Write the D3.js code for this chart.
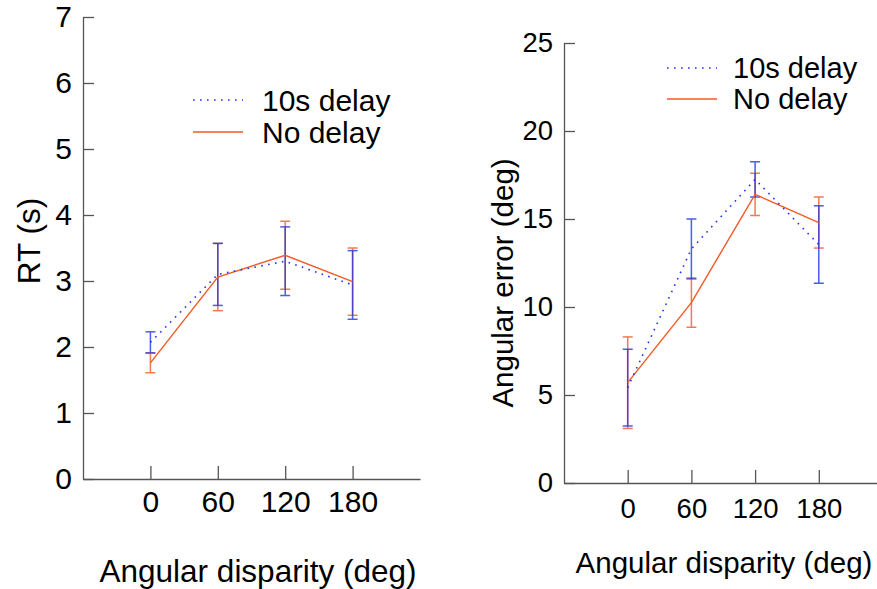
<!DOCTYPE html>
<html>
<head>
<meta charset="utf-8">
<script src="https://cdn.jsdelivr.net/npm/d3@7"></script>
<style>
  body { margin: 0; background: #fff; }
  svg { font-family: "Liberation Sans", Arial, sans-serif; }
  .axis path, .axis line { stroke: #555; stroke-width: 1.3; }
  .axis text { fill: #000; }
</style>
</head>
<body>
<svg id="chart" width="877" height="589"></svg>
<script>
// angular disparity categories
var disparities = [0, 60, 120, 180];
var seriesNames = ["10s delay", "No delay"];

// RT (s) - left panel
var rtDelayMean = [2.07, 3.10, 3.30, 2.94];
var rtDelayErr = [0.16, 0.47, 0.52, 0.52];
var rtNoDelayMean = [1.76, 3.06, 3.39, 2.99];
var rtNoDelayErr = [0.15, 0.51, 0.515, 0.51];

// Angular error (deg) - right panel
var errDelayMean = [5.42, 13.3, 17.25, 13.55];
var errDelayErr = [2.18, 1.7, 1.0, 2.2];
var errNoDelayMean = [5.7, 10.25, 16.4, 14.8];
var errNoDelayErr = [2.6, 1.4, 1.2, 1.45];

var blue = "#2035e6";
var orange = "#f25a26";

var svg = d3.select("#chart");

// maak de data per serie
function makeSeries(means, errs) {
  return disparities.map(function(d, i) {
    return {x: d, y: means[i], e: errs[i]};
  });
}

function drawPanel(p) {
  var g = svg.append("g");

  var xScale = d3.scaleLinear().domain([-60, 240]).range(p.xRange);
  var yScale = d3.scaleLinear().domain(p.yDomain).range(p.yRange);

  // y-as
  g.append("g")
      .attr("class", "axis")
      .attr("transform", "translate(" + p.xRange[0] + ",0)")
      .style("font-size", p.tickSize + "px")
      .call(d3.axisLeft(yScale)
        .ticks(p.yTicks)
        .tickSize(-11)
        .tickSizeOuter(0)
        .tickPadding(11));

  // x-as
  g.append("g")
      .attr("class", "axis")
      .attr("transform", "translate(0," + p.yRange[0] + ")")
      .style("font-size", p.tickSize + "px")
      .call(d3.axisBottom(xScale)
        .tickValues(disparities)
        .tickSize(-13)
        .tickSizeOuter(0)
        .tickPadding(p.xPad));

  g.selectAll(".axis").attr("font-size", null).attr("font-family", null);

  // as titels
  g.append("text")
      .attr("x", p.xTitle[0])
      .attr("y", p.xTitle[1])
      .attr("text-anchor", "middle")
      .style("font-size", p.titleSize + "px")
      .text("Angular disparity (deg)");

  g.append("text")
      .attr("transform", "translate(" + p.yTitle[0] + "," + p.yTitle[1] + ") rotate(-90)")
      .attr("text-anchor", "middle")
      .style("font-size", p.titleSize + "px")
      .text(p.yLabel);

  var series = [
    {data: p.noDelay, color: orange, dash: null},
    {data: p.delay, color: blue, dash: "1.6,5.4"}
  ];

  // foutbalken
  series.forEach(function(s) {
    var bars = g.append("g")
        .attr("stroke", s.color)
        .attr("stroke-width", 1.5)
        .attr("opacity", 0.8)
      .selectAll("g")
        .data(s.data)
        .enter()
        .append("g");

    bars.append("line")
        .attr("x1", function(d) { return xScale(d.x); })
        .attr("x2", function(d) { return xScale(d.x); })
        .attr("y1", function(d) { return yScale(d.y - d.e); })
        .attr("y2", function(d) { return yScale(d.y + d.e); });

    [-1, 1].forEach(function(sign) {
      bars.append("line")
          .attr("x1", function(d) { return xScale(d.x) - 5; })
          .attr("x2", function(d) { return xScale(d.x) + 5; })
          .attr("y1", function(d) { return yScale(d.y + sign * d.e); })
          .attr("y2", function(d) { return yScale(d.y + sign * d.e); });
    });
  });

  var line = d3.line()
      .x(function(d) { return xScale(d.x); })
      .y(function(d) { return yScale(d.y); });

  // lijnen
  series.forEach(function(s) {
    g.append("path")
        .datum(s.data)
        .attr("fill", "none")
        .attr("stroke", s.color)
        .attr("stroke-width", s.dash ? 1.6 : 1.4)
        .attr("stroke-dasharray", s.dash)
        .attr("d", line);
  });

  // legenda
  var legend = [
    {name: seriesNames[0], color: blue, dash: "1.6,5.4"},
    {name: seriesNames[1], color: orange, dash: null}
  ];
  legend.forEach(function(l, i) {
    var ly = p.legend[1] + i * p.legendStep;
    g.append("line")
        .attr("x1", p.legend[0])
        .attr("x2", p.legend[0] + 50)
        .attr("y1", ly)
        .attr("y2", ly)
        .attr("stroke", l.color)
        .attr("stroke-width", 1.6)
        .attr("stroke-dasharray", l.dash);
    g.append("text")
        .attr("x", p.legend[0] + p.legendGap)
        .attr("y", ly)
        .attr("dy", "0.36em")
        .style("font-size", p.legendSize + "px")
        .text(l.name);
  });
}

drawPanel({
  xRange: [83, 420],
  yRange: [479, 17],
  yDomain: [0, 7],
  yTicks: 7,
  tickSize: 30,
  xPad: 12,
  xTitle: [258, 582],
  yTitle: [40, 241],
  yLabel: "RT (s)",
  titleSize: 31.5,
  delay: makeSeries(rtDelayMean, rtDelayErr),
  noDelay: makeSeries(rtNoDelayMean, rtNoDelayErr),
  legend: [193, 100],
  legendStep: 32,
  legendGap: 69,
  legendSize: 30
});

drawPanel({
  xRange: [564, 882.5],
  yRange: [483, 43],
  yDomain: [0, 25],
  yTicks: 5,
  tickSize: 27.5,
  xPad: 15,
  xTitle: [724, 573],
  yTitle: [513, 283],
  yLabel: "Angular error (deg)",
  titleSize: 29.5,
  delay: makeSeries(errDelayMean, errDelayErr),
  noDelay: makeSeries(errNoDelayMean, errNoDelayErr),
  legend: [667, 68],
  legendStep: 31,
  legendGap: 66,
  legendSize: 29
});
</script>
</body>
</html>
